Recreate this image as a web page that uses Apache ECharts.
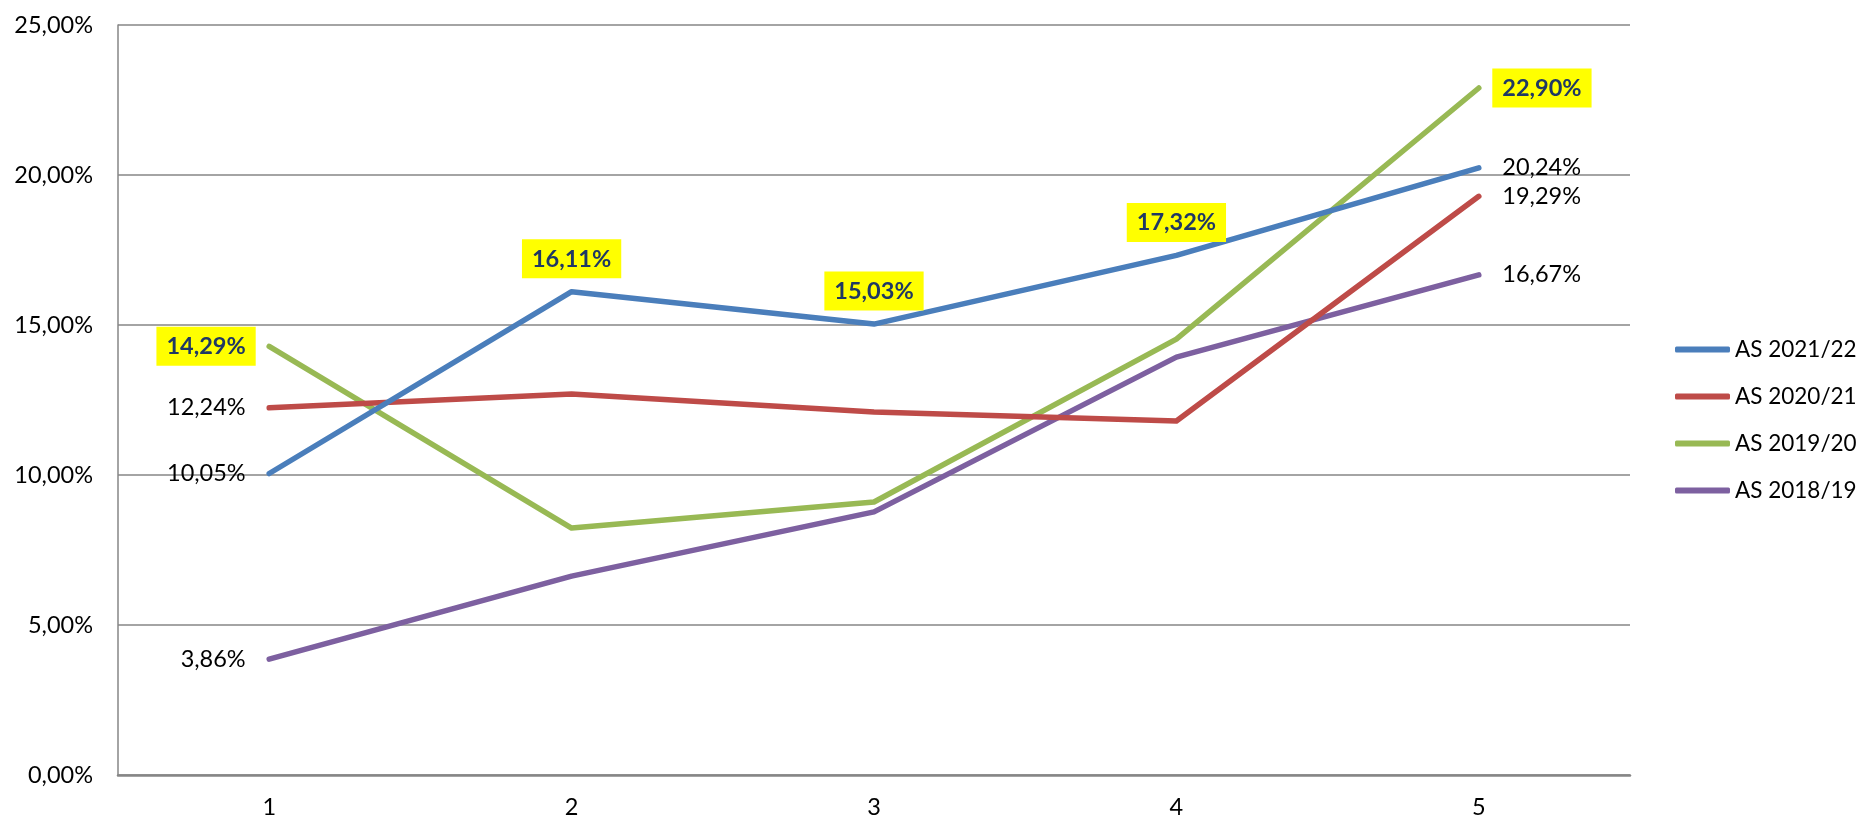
<!DOCTYPE html>
<html>
<head>
<meta charset="utf-8">
<script src="https://cdn.jsdelivr.net/npm/echarts@6/dist/echarts.min.js"></script>
<style>
html,body{margin:0;padding:0;background:#fff;}
#chart{width:1857px;height:821px;}
</style>
</head>
<body>
<div id="chart"></div>
<script>
const categories = ['1', '2', '3', '4', '5'];
const seriesNames = ['AS 2021/22', 'AS 2020/21', 'AS 2019/20', 'AS 2018/19'];
const as202122 = [10.05, 16.11, 15.03, 17.32, 20.24];
const as202021 = [12.24, 12.70, 12.10, 11.80, 19.29];
const as201920 = [14.29, 8.23, 9.10, 14.53, 22.90];
const as201819 = [3.86, 6.63, 8.77, 13.93, 16.67];
const yTicks = [0, 5, 10, 15, 20, 25];

const seriesValues = [as202122, as202021, as201920, as201819];
const colors = ['#4A7EBB', '#BE4B48', '#98B954', '#7D60A0'];
// which points carry the highlighted (yellow) label
const highlighted = { 'AS 2021/22': [1, 2, 3], 'AS 2019/20': [0, 4] };

const FONT = 'Lato';
function fmt(v) { return v.toFixed(2).replace('.', ',') + '%'; }

const plainLabel = {
  show: true, color: '#000', fontFamily: FONT, fontSize: 23.5,
  padding: [8, 10, 7, 10], distance: 13,
  formatter: p => fmt(p.value)
};
const hiLabel = Object.assign({}, plainLabel, {
  backgroundColor: '#FFFF00', color: '#1F3864', fontWeight: 'bold'
});

const series = seriesNames.map((name, si) => {
  const hi = highlighted[name] || [];
  const data = seriesValues[si].map((v, i) => {
    let pos = null;
    if (i === 0) pos = 'left';
    else if (i === categories.length - 1) pos = 'right';
    else if (hi.indexOf(i) >= 0) pos = 'top';
    if (!pos) return { value: v, label: { show: false } };
    const base = hi.indexOf(i) >= 0 ? hiLabel : plainLabel;
    return { value: v, label: Object.assign({}, base, { position: pos }) };
  });
  return {
    name: name, type: 'line', data: data,
    symbol: 'circle', symbolSize: 1, showSymbol: true, smooth: false,
    lineStyle: { color: colors[si], width: 5.5, cap: 'round', join: 'round' },
    itemStyle: { color: colors[si] },
    z: 10 - si
  };
});

const chart = echarts.init(document.getElementById('chart'), null, { renderer: 'canvas' });
chart.setOption({
  animation: false,
  backgroundColor: '#fff',
  textStyle: { fontFamily: FONT },
  grid: { left: 118, right: 227, top: 25, bottom: 46, containLabel: false },
  legend: {
    orient: 'vertical', left: 1670, top: 333,
    itemWidth: 55, itemHeight: 6, itemGap: 24,
    icon: 'roundRect',
    textStyle: { fontFamily: FONT, fontSize: 22.5, color: '#000' },
    data: seriesNames
  },
  xAxis: {
    type: 'category', data: categories, boundaryGap: true,
    axisTick: { show: false },
    axisLine: { show: true, lineStyle: { color: '#868686', width: 2.5 } },
    axisLabel: { color: '#000', fontFamily: FONT, fontSize: 23.5, margin: 20 },
    splitLine: { show: false }
  },
  yAxis: {
    type: 'value', min: yTicks[0], max: yTicks[yTicks.length - 1], interval: 5,
    axisLine: { show: true, lineStyle: { color: '#868686', width: 1.5 } },
    axisTick: { show: false },
    axisLabel: { color: '#000', fontFamily: FONT, fontSize: 23.5, margin: 25,
      formatter: v => fmt(v) },
    splitLine: { show: true, lineStyle: { color: '#868686', width: 1.5 } }
  },
  series: series
});
</script>
</body>
</html>
